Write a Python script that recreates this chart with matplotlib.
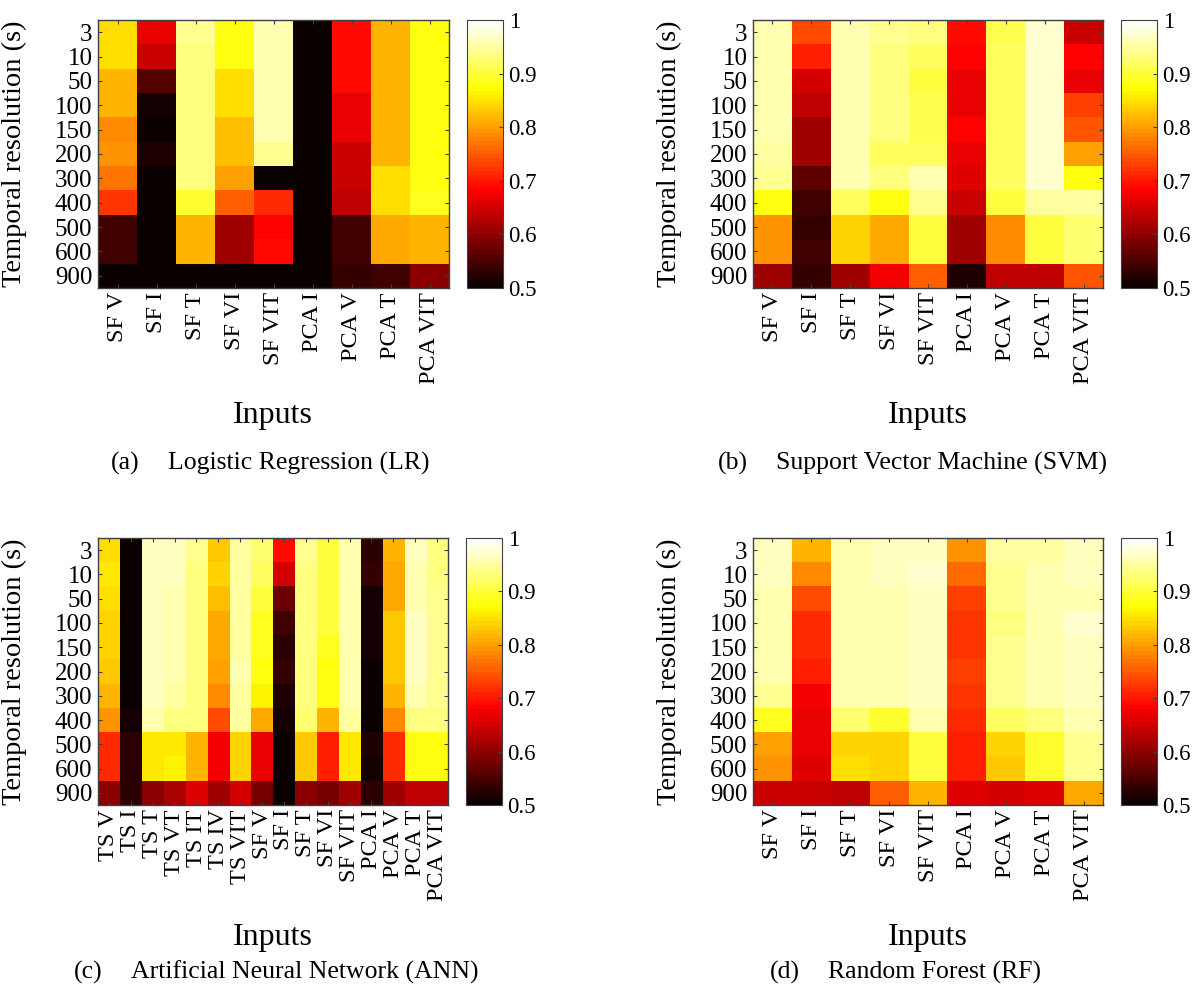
import numpy as np
import matplotlib
matplotlib.use("Agg")
import matplotlib.pyplot as plt

plt.rcParams['font.family'] = ['Liberation Serif', 'DejaVu Serif']

# temporal resolutions (rows, top to bottom)
resolutions = ["3", "10", "50", "100", "150", "200", "300", "400", "500", "600", "900"]

inputs_9 = ["SF V", "SF I", "SF T", "SF VI", "SF VIT", "PCA I", "PCA V", "PCA T", "PCA VIT"]
inputs_16 = ["TS V", "TS I", "TS T", "TS VT", "TS IT", "TS IV", "TS VIT",
             "SF V", "SF I", "SF T", "SF VI", "SF VIT", "PCA I", "PCA V", "PCA T", "PCA VIT"]

# values are stored one list per input column (rows 3 ... 900)
lr_cols = [
    [0.845, 0.845, 0.82, 0.82, 0.785, 0.79, 0.77, 0.725, 0.54, 0.54, 0.50],
    [0.67, 0.645, 0.555, 0.515, 0.505, 0.52, 0.505, 0.505, 0.50, 0.50, 0.50],
    [0.945, 0.935, 0.935, 0.935, 0.935, 0.935, 0.935, 0.895, 0.82, 0.82, 0.50],
    [0.875, 0.875, 0.85, 0.85, 0.825, 0.825, 0.80, 0.755, 0.61, 0.61, 0.50],
    [0.955, 0.96, 0.955, 0.955, 0.955, 0.945, 0.50, 0.715, 0.68, 0.69, 0.50],
    [0.505, 0.505, 0.505, 0.505, 0.505, 0.505, 0.505, 0.505, 0.505, 0.505, 0.505],
    [0.695, 0.695, 0.695, 0.67, 0.67, 0.645, 0.645, 0.64, 0.545, 0.545, 0.535],
    [0.815, 0.815, 0.815, 0.815, 0.82, 0.82, 0.845, 0.845, 0.81, 0.81, 0.545],
    [0.88, 0.88, 0.88, 0.88, 0.88, 0.88, 0.88, 0.89, 0.82, 0.82, 0.60],
]

svm_cols = [
    [0.96, 0.96, 0.955, 0.955, 0.955, 0.95, 0.94, 0.875, 0.79, 0.79, 0.61],
    [0.74, 0.71, 0.655, 0.635, 0.61, 0.61, 0.57, 0.54, 0.535, 0.54, 0.535],
    [0.955, 0.955, 0.955, 0.955, 0.955, 0.955, 0.955, 0.92, 0.84, 0.84, 0.615],
    [0.945, 0.935, 0.935, 0.935, 0.93, 0.92, 0.93, 0.88, 0.81, 0.81, 0.675],
    [0.935, 0.915, 0.90, 0.91, 0.91, 0.915, 0.955, 0.94, 0.90, 0.90, 0.75],
    [0.69, 0.68, 0.67, 0.67, 0.68, 0.665, 0.66, 0.645, 0.61, 0.61, 0.52],
    [0.91, 0.92, 0.92, 0.92, 0.92, 0.92, 0.92, 0.90, 0.785, 0.785, 0.635],
    [0.975, 0.97, 0.97, 0.97, 0.97, 0.97, 0.97, 0.95, 0.90, 0.90, 0.635],
    [0.645, 0.68, 0.67, 0.73, 0.745, 0.80, 0.88, 0.95, 0.925, 0.925, 0.745],
]

ann_cols = [
    [0.845, 0.855, 0.845, 0.84, 0.84, 0.835, 0.815, 0.79, 0.715, 0.715, 0.60],
    [0.50, 0.50, 0.50, 0.50, 0.50, 0.50, 0.50, 0.515, 0.525, 0.525, 0.53],
    [0.965, 0.965, 0.965, 0.965, 0.965, 0.965, 0.965, 0.955, 0.855, 0.855, 0.60],
    [0.965, 0.965, 0.96, 0.96, 0.96, 0.96, 0.95, 0.935, 0.855, 0.865, 0.62],
    [0.94, 0.935, 0.935, 0.935, 0.935, 0.935, 0.93, 0.93, 0.82, 0.82, 0.66],
    [0.835, 0.84, 0.825, 0.805, 0.805, 0.80, 0.785, 0.74, 0.675, 0.675, 0.61],
    [0.95, 0.95, 0.95, 0.95, 0.95, 0.955, 0.95, 0.95, 0.84, 0.84, 0.655],
    [0.925, 0.915, 0.90, 0.89, 0.89, 0.875, 0.86, 0.805, 0.67, 0.67, 0.58],
    [0.69, 0.655, 0.575, 0.54, 0.525, 0.535, 0.52, 0.515, 0.505, 0.505, 0.50],
    [0.94, 0.935, 0.935, 0.935, 0.935, 0.935, 0.935, 0.925, 0.835, 0.835, 0.60],
    [0.90, 0.90, 0.90, 0.90, 0.885, 0.875, 0.875, 0.82, 0.71, 0.71, 0.58],
    [0.96, 0.955, 0.955, 0.955, 0.955, 0.955, 0.955, 0.95, 0.855, 0.855, 0.61],
    [0.525, 0.535, 0.51, 0.51, 0.515, 0.505, 0.505, 0.505, 0.52, 0.51, 0.525],
    [0.815, 0.81, 0.81, 0.835, 0.835, 0.83, 0.815, 0.785, 0.715, 0.715, 0.61],
    [0.965, 0.955, 0.96, 0.965, 0.965, 0.965, 0.96, 0.93, 0.875, 0.875, 0.635],
    [0.935, 0.93, 0.94, 0.94, 0.94, 0.94, 0.94, 0.93, 0.875, 0.875, 0.64],
]

rf_cols = [
    [0.965, 0.965, 0.96, 0.955, 0.955, 0.955, 0.94, 0.89, 0.80, 0.795, 0.645],
    [0.815, 0.785, 0.735, 0.715, 0.715, 0.71, 0.675, 0.67, 0.67, 0.66, 0.645],
    [0.96, 0.96, 0.96, 0.96, 0.96, 0.96, 0.96, 0.925, 0.84, 0.845, 0.64],
    [0.965, 0.965, 0.96, 0.955, 0.955, 0.955, 0.955, 0.895, 0.84, 0.84, 0.755],
    [0.965, 0.97, 0.965, 0.965, 0.965, 0.965, 0.965, 0.955, 0.90, 0.90, 0.82],
    [0.79, 0.76, 0.73, 0.725, 0.725, 0.73, 0.725, 0.715, 0.71, 0.71, 0.66],
    [0.95, 0.945, 0.945, 0.935, 0.945, 0.945, 0.945, 0.915, 0.84, 0.83, 0.65],
    [0.95, 0.955, 0.955, 0.955, 0.955, 0.955, 0.955, 0.935, 0.895, 0.895, 0.66],
    [0.965, 0.965, 0.96, 0.975, 0.965, 0.965, 0.965, 0.96, 0.94, 0.94, 0.81],
]

W, H = 1203, 994
fig = plt.figure(figsize=(W / 100, H / 100), dpi=100)
cmap = plt.get_cmap('hot', 64)
edge = '#404040'


def rect(x0, y0, x1, y1):
    return [x0 / W, 1 - y1 / H, (x1 - x0) / W, (y1 - y0) / H]


def heatmap(cols, labels, ax_px, cb_px, ylab_x):
    ax = fig.add_axes(rect(*ax_px))
    data = np.array(cols).T
    im = ax.imshow(data, cmap=cmap, vmin=0.5, vmax=1, aspect='auto', interpolation='nearest')
    ax.set_xticks(range(len(labels)))
    ax.set_xticklabels(labels, rotation=90, fontsize=17.5)
    ax.set_yticks(range(len(resolutions)))
    ax.set_yticklabels(resolutions, fontsize=18)
    ax.tick_params(direction='in', length=3, width=0.8, color=edge, top=True, right=True, pad=3)
    ax.tick_params(axis='y', pad=4)
    for s in ax.spines.values():
        s.set_color(edge)
        s.set_linewidth(1)

    cax = fig.add_axes(rect(*cb_px))
    cb = fig.colorbar(im, cax=cax, ticks=[0.5, 0.6, 0.7, 0.8, 0.9, 1.0])
    cb.ax.set_yticklabels(["0.5", "0.6", "0.7", "0.8", "0.9", "1"], fontsize=16.5)
    cb.ax.tick_params(direction='in', length=3, width=0.8, color=edge, pad=4)
    cb.outline.set_edgecolor(edge)

    yc = (ax_px[1] + ax_px[3]) / 2
    fig.text(ylab_x / W, 1 - yc / H, "Temporal resolution (s)", rotation=90,
             ha='center', va='center', fontsize=20.5)
    return ax


heatmap(lr_cols, inputs_9, (98, 20, 449, 288), (467, 20, 503, 288), 14)
heatmap(svm_cols, inputs_9, (753, 20, 1103, 288), (1121, 20, 1157, 288), 669)
heatmap(ann_cols, inputs_16, (98, 538, 448, 805), (466, 538, 502, 805), 14)
heatmap(rf_cols, inputs_9, (753, 538, 1103, 805), (1121, 538, 1157, 805), 669)

# x labels
for xc, yc in [(273, 415), (928, 415), (273, 938), (928, 938)]:
    fig.text(xc / W, 1 - yc / H, "Inputs", ha='center', va='center', fontsize=23)

# sub-captions, each group centred under its subfigure
captions = [
    (270, 463, "(a)", "Logistic Regression (LR)"),
    (912, 463, "(b)", "Support Vector Machine (SVM)"),
    (276, 972, "(c)", "Artificial Neural Network (ANN)"),
    (905, 972, "(d)", "Random Forest (RF)"),
]
renderer = fig.canvas.get_renderer()
gap = 28
for cx, yc, tag, txt in captions:
    t1 = fig.text(0, 1 - yc / H, tag, ha='left', va='center', fontsize=18.5)
    t2 = fig.text(0, 1 - yc / H, txt, ha='left', va='center', fontsize=18.5)
    w1 = t1.get_window_extent(renderer).width
    w2 = t2.get_window_extent(renderer).width
    x0 = cx - (w1 + gap + w2) / 2
    t1.set_x(x0 / W)
    t2.set_x((x0 + w1 + gap) / W)

fig.savefig("out.png", dpi=100)
